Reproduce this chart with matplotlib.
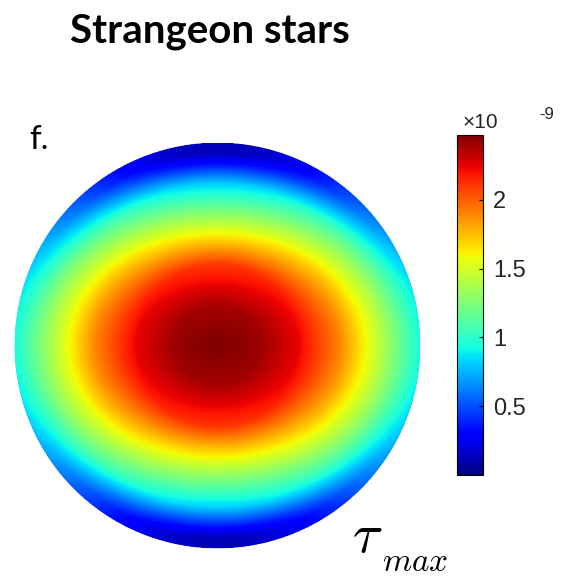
import numpy as np
import matplotlib.pyplot as plt
from matplotlib.patches import Circle

# radial profiles of tau_max (units of 1e-9), read along the equator and the pole axis
r_samples = [0.0, 0.2, 0.4, 0.6, 0.8, 0.9, 0.95, 1.0]
tau_equator = [2.47, 2.41, 2.24, 1.90, 1.42, 1.17, 1.05, 0.93]
tau_pole = [2.47, 2.38, 2.10, 1.43, 0.80, 0.31, 0.12, 0.12]

cbar_ticks = [0.5, 1, 1.5, 2]
cbar_labels = ["0.5", "1", "1.5", "2"]
vmin, vmax = 0.0, 2.47

# build the field on a grid: blend the two profiles by angle
n = 600
xs = np.linspace(-1, 1, n)
X, Y = np.meshgrid(xs, xs)
R = np.sqrt(X**2 + Y**2)
w = np.where(R > 0, (Y / np.maximum(R, 1e-9))**2, 0.0)
Rc = np.clip(R, 0, 1)
eq = np.interp(Rc, r_samples, tau_equator)
po = np.interp(Rc, r_samples, tau_pole)
field = (1 - w) * eq + w * po
field = np.ma.masked_where(R > 1.0, field)

fig = plt.figure(figsize=(5.72, 5.81), dpi=100)

ax = fig.add_axes([0.0253, 0.0559, 0.7098, 0.6988])
im = ax.imshow(field, cmap="jet", vmin=vmin, vmax=vmax, origin="lower",
               extent=[-1, 1, -1, 1], interpolation="bilinear")
clip = Circle((0, 0), 1.0, transform=ax.transData)
im.set_clip_path(clip)
ax.set_xlim(-1, 1)
ax.set_ylim(-1, 1)
ax.set_aspect("equal")
ax.axis("off")

cax = fig.add_axes([0.799, 0.1824, 0.0455, 0.5852])
cb = fig.colorbar(im, cax=cax)
cb.set_ticks(cbar_ticks)
cb.set_ticklabels(cbar_labels)
cax.tick_params(direction="in", length=3, width=0.8, labelsize=17, pad=7)
for lab in cax.get_yticklabels():
    lab.set_fontfamily("Liberation Sans")
    lab.set_color("#262626")
cb.outline.set_linewidth(0.8)

fig.text(0.808, 0.780, "\u00d710", fontsize=15, family="Liberation Sans", color="#262626")
fig.text(0.942, 0.795, "-9", fontsize=12, family="Liberation Sans", color="#262626")

fig.text(0.122, 0.926, "Strangeon stars", fontsize=29, fontweight="bold", family="Lato")
fig.text(0.052, 0.743, "f.", fontsize=24, family="Lato")

plt.rcParams["mathtext.fontset"] = "cm"
fig.text(0.615, 0.050, r"$\tau$", fontsize=40)
fig.text(0.668, 0.017, r"$max$", fontsize=24)

fig.savefig("out.png", dpi=100)
